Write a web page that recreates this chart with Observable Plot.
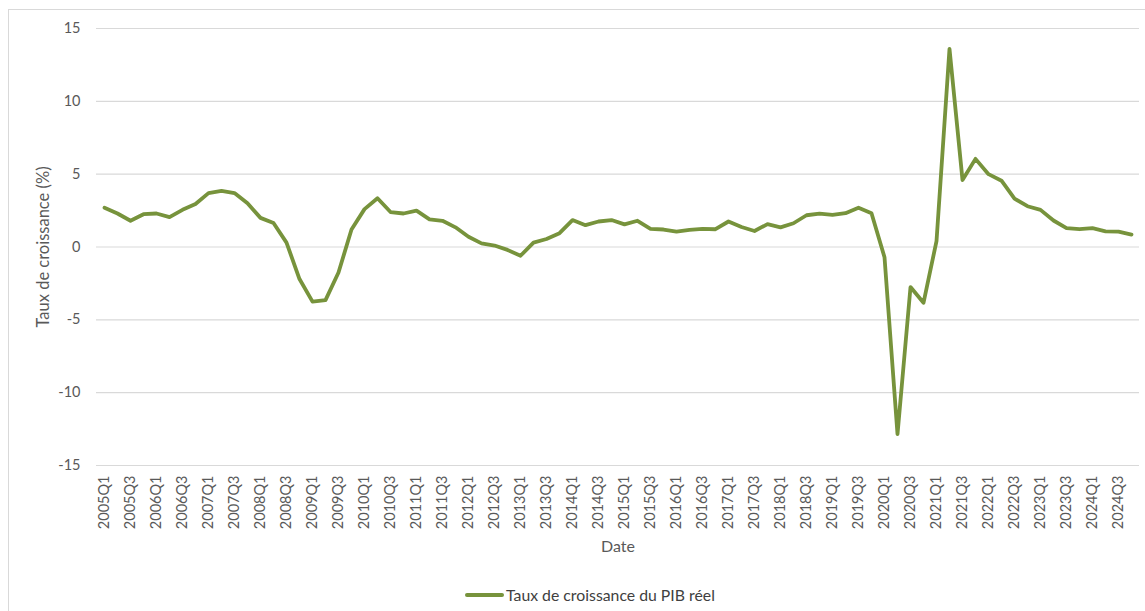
<!DOCTYPE html>
<html lang="fr">
<head>
<meta charset="utf-8">
<script src="https://cdn.jsdelivr.net/npm/d3@7"></script>
<script src="https://cdn.jsdelivr.net/npm/@observablehq/plot@0.6"></script>
<style>
  html, body { margin: 0; padding: 0; background: #fff; overflow: hidden; }
  body { width: 1145px; height: 611px; position: relative; font-family: Lato, "Open Sans", sans-serif; }
  #frame { position: absolute; left: 8px; top: 9px; width: 1160px; height: 640px; border: 1px solid #d9d9d9; box-sizing: border-box; }
  #chart { position: absolute; left: 0; top: 0; }
  #legend { position: absolute; left: 465px; top: 585px; display: flex; align-items: center; font-size: 15.8px; color: #404040; white-space: nowrap; }
  #legend .swatch { display: inline-block; width: 39px; height: 4px; background: #77933c; border-radius: 2px; margin-right: 2px; }
</style>
</head>
<body>
<div id="frame"></div>
<div id="chart"></div>
<div id="legend"><span class="swatch"></span><span>Taux de croissance du PIB réel</span></div>
<script>
// Quarterly real GDP growth rate (%), 2005Q1 – 2024Q4
const years = d3.range(2005, 2025);
const quarterNames = ["Q1", "Q2", "Q3", "Q4"];
const quarters = years.flatMap(y => quarterNames.map(q => `${y}${q}`));

const growth = [
  2.7, 2.3, 1.8, 2.25,      // 2005
  2.3, 2.05, 2.55, 2.95,    // 2006
  3.7, 3.85, 3.7, 3.0,      // 2007
  2.0, 1.65, 0.3, -2.2,     // 2008
  -3.75, -3.65, -1.75, 1.2, // 2009
  2.6, 3.35, 2.4, 2.3,      // 2010
  2.5, 1.9, 1.8, 1.35,      // 2011
  0.7, 0.25, 0.1, -0.2,     // 2012
  -0.6, 0.3, 0.55, 0.95,    // 2013
  1.85, 1.5, 1.75, 1.85,    // 2014
  1.55, 1.8, 1.25, 1.2,     // 2015
  1.05, 1.17, 1.24, 1.22,   // 2016
  1.75, 1.37, 1.1, 1.57,    // 2017
  1.35, 1.63, 2.18, 2.29,   // 2018
  2.2, 2.32, 2.7, 2.32,     // 2019
  -0.7, -12.85, -2.75, -3.83, // 2020
  0.4, 13.6, 4.6, 6.05,     // 2021
  5.0, 4.55, 3.32, 2.8,     // 2022
  2.55, 1.82, 1.3, 1.22,    // 2023
  1.29, 1.07, 1.06, 0.85    // 2024
];

const yTicks = [-15, -10, -5, 0, 5, 10, 15];
const xTicks = quarters.filter((d, i) => i % 2 === 0);

const data = quarters.map((q, i) => ({date: q, value: growth[i]}));

const chart = Plot.plot({
  width: 1145,
  height: 560,
  marginLeft: 96,
  marginRight: 6,
  marginTop: 28,
  marginBottom: 95,
  style: {fontFamily: "Lato, 'Open Sans', sans-serif", fontSize: "14px", color: "#595959", background: "transparent"},
  x: {type: "point", domain: quarters, padding: 0.5, label: null},
  y: {domain: [-15, 15], label: null},
  marks: [
    Plot.gridY(yTicks, {stroke: "#d9d9d9", strokeOpacity: 1, strokeWidth: 1.2}),
    Plot.axisY(yTicks, {tickSize: 0, tickPadding: 16, tickFormat: d => String(d), fontSize: 14.5, fill: "#595959", label: null}),
    Plot.axisX(xTicks, {tickSize: 0, tickPadding: 10, tickRotate: -90, fontSize: 14.5, fill: "#595959", label: null}),
    Plot.line(data, {x: "date", y: "value", stroke: "#77933c", strokeWidth: 3.8, strokeLinejoin: "round", strokeLinecap: "round"}),
    Plot.text(["Taux de croissance (%)"], {text: d => d, frameAnchor: "left", textAnchor: "middle", lineAnchor: "middle", dx: -53, rotate: -90, fontSize: 16.5, fill: "#595959"}),
    Plot.text(["Date"], {text: d => d, frameAnchor: "bottom", textAnchor: "middle", lineAnchor: "middle", dy: 81, fontSize: 16, fill: "#595959"})
  ]
});

document.getElementById("chart").appendChild(chart);
</script>
</body>
</html>
